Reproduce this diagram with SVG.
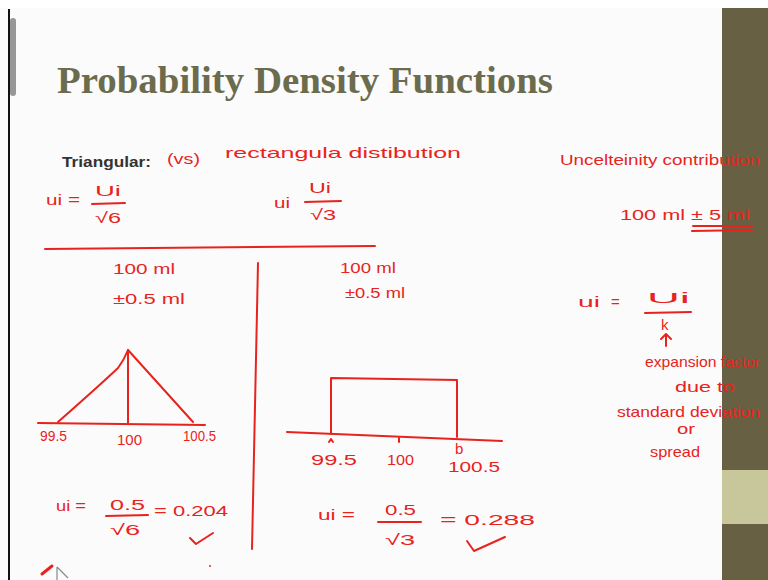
<svg xmlns="http://www.w3.org/2000/svg" width="768" height="580" viewBox="0 0 768 580">
<style>
.hw{font-family:"Liberation Sans","DejaVu Sans",sans-serif;fill:#e8231d;font-size:15px}
.ink{stroke:#e8231d;stroke-width:2;fill:none;stroke-linecap:round;stroke-linejoin:round}
</style>
<rect x="0" y="0" width="768" height="580" fill="#fbfbfb"/>
<rect x="0" y="0" width="768" height="8" fill="#ffffff"/>
<line x1="9" y1="9" x2="9" y2="580" stroke="#111" stroke-width="2"/>
<rect x="10" y="18" width="6" height="78" rx="3" fill="#555" opacity="0.6"/>
<rect x="722" y="8" width="46" height="572" fill="#686043"/>
<rect x="722" y="470" width="46" height="54" fill="#c8c79c"/>
<text x="57" y="93" font-family="Liberation Serif,serif" font-weight="bold" font-size="37" fill="#6b6b4e" textLength="496" lengthAdjust="spacingAndGlyphs">Probability Density Functions</text>
<text x="62" y="167" font-family="Liberation Sans,sans-serif" font-weight="bold" font-size="15" fill="#333" textLength="89" lengthAdjust="spacingAndGlyphs">Triangular:</text>
<g id="header">
<text class="hw" x="167" y="164" textLength="33" lengthAdjust="spacingAndGlyphs">(vs)</text>
<text class="hw" x="225" y="158" textLength="236" lengthAdjust="spacingAndGlyphs">rectangula distibution</text>
<text class="hw" x="46" y="205" textLength="34" lengthAdjust="spacingAndGlyphs">ui =</text>
<text class="hw" x="95" y="196" textLength="26" lengthAdjust="spacingAndGlyphs">Ui</text>
<line class="ink" x1="92" y1="204" x2="125" y2="203"/>
<text class="hw" x="95" y="223" textLength="26" lengthAdjust="spacingAndGlyphs">√6</text>
<text class="hw" x="274" y="208" textLength="16" lengthAdjust="spacingAndGlyphs">ui</text>
<text class="hw" x="309" y="193" textLength="22" lengthAdjust="spacingAndGlyphs">Ui</text>
<line class="ink" x1="305" y1="202" x2="341" y2="201"/>
<text class="hw" x="310" y="220" textLength="26" lengthAdjust="spacingAndGlyphs">√3</text>
</g>
<g id="dividers">
<path class="ink" d="M45 249 L375 246"/>
<path class="ink" d="M258 263 L252 549"/>
</g>
<g id="triangular">
<text class="hw" x="113" y="274" textLength="62" lengthAdjust="spacingAndGlyphs">100 ml</text>
<text class="hw" x="113" y="304" textLength="72" lengthAdjust="spacingAndGlyphs">±0.5 ml</text>
<path class="ink" d="M38 423 L205 425"/>
<path class="ink" d="M58 422 Q100 385 118 368 Q124 360 128 350 L193 422"/>
<path class="ink" d="M128 350 L128 423"/>
<text class="hw" x="40" y="441" font-size="13" textLength="27" lengthAdjust="spacingAndGlyphs">99.5</text>
<text class="hw" x="117" y="445" font-size="13" textLength="25" lengthAdjust="spacingAndGlyphs">100</text>
<text class="hw" x="183" y="441" font-size="13" textLength="33" lengthAdjust="spacingAndGlyphs">100.5</text>
</g>
<g id="rectangular">
<text class="hw" x="340" y="273" textLength="56" lengthAdjust="spacingAndGlyphs">100 ml</text>
<text class="hw" x="345" y="298" textLength="60" lengthAdjust="spacingAndGlyphs">±0.5 ml</text>
<path class="ink" d="M287 432 L502 441"/>
<path class="ink" d="M331 434 L331 378 L457 380 L457 437"/>
<path class="ink" d="M329 442 L331 439 L333 442 M399 438 L399 442"/>
<text class="hw" x="311" y="465" textLength="46" lengthAdjust="spacingAndGlyphs">99.5</text>
<text class="hw" x="387" y="465" font-size="13" textLength="27" lengthAdjust="spacingAndGlyphs">100</text>
<text class="hw" x="455" y="454" font-size="14">b</text>
<text class="hw" x="448" y="472" textLength="52" lengthAdjust="spacingAndGlyphs">100.5</text>
</g>
<g id="notes">
<text class="hw" x="560" y="165" textLength="200" lengthAdjust="spacingAndGlyphs">Uncelteinity contribution</text>
<text class="hw" x="620" y="220" textLength="130" lengthAdjust="spacingAndGlyphs">100 ml ± 5 ml</text>
<path class="ink" d="M693 226 L752 226 M692 231 L752 230"/>
<text class="hw" x="578" y="307" font-size="17" textLength="22" lengthAdjust="spacingAndGlyphs">ui</text>
<text class="hw" x="611" y="307" font-size="17">=</text>
<text class="hw" x="647" y="303" font-size="20" textLength="43" lengthAdjust="spacingAndGlyphs">Ui</text>
<line class="ink" x1="645" y1="313" x2="691" y2="312"/>
<text class="hw" x="661" y="330" font-size="13">k</text>
<path class="ink" d="M666 346 L666 334 M661 339 L666 334 L671 339"/>
<text class="hw" x="645" y="367" textLength="115" lengthAdjust="spacingAndGlyphs">expansion factor</text>
<text class="hw" x="675" y="392" textLength="60" lengthAdjust="spacingAndGlyphs">due to</text>
<text class="hw" x="617" y="417" textLength="143" lengthAdjust="spacingAndGlyphs">standard deviation</text>
<text class="hw" x="677" y="434" textLength="18" lengthAdjust="spacingAndGlyphs">or</text>
<text class="hw" x="650" y="457" textLength="50" lengthAdjust="spacingAndGlyphs">spread</text>
</g>
<g id="result-triangular">
<text class="hw" x="56" y="511" textLength="30" lengthAdjust="spacingAndGlyphs">ui =</text>
<text class="hw" x="110" y="510" textLength="35" lengthAdjust="spacingAndGlyphs">0.5</text>
<line class="ink" x1="106" y1="516" x2="148" y2="515"/>
<text class="hw" x="110" y="535" textLength="30" lengthAdjust="spacingAndGlyphs">√6</text>
<text class="hw" x="154" y="516" textLength="74" lengthAdjust="spacingAndGlyphs">= 0.204</text>
<path class="ink" d="M190 538 L196 544 L213 533"/>
</g>
<g id="result-rectangular">
<text class="hw" x="318" y="520" textLength="37" lengthAdjust="spacingAndGlyphs">ui =</text>
<text class="hw" x="385" y="515" textLength="31" lengthAdjust="spacingAndGlyphs">0.5</text>
<line class="ink" x1="378" y1="522" x2="421" y2="522"/>
<text class="hw" x="385" y="545" textLength="30" lengthAdjust="spacingAndGlyphs">√3</text>
<text class="hw" x="440" y="525" textLength="95" lengthAdjust="spacingAndGlyphs">= 0.288</text>
<path class="ink" d="M467 541 L474 551 L505 537"/>
</g>
<g id="cursor">
<path d="M42 574 L52 566" stroke="#e8231d" stroke-width="3" stroke-linecap="round"/>
<path d="M57 567 L57 580 M57 567 L68 578" stroke="#888" stroke-width="1.2" fill="none"/>
<circle cx="210" cy="566" r="1" fill="#e8231d"/>
</g>
</svg>
